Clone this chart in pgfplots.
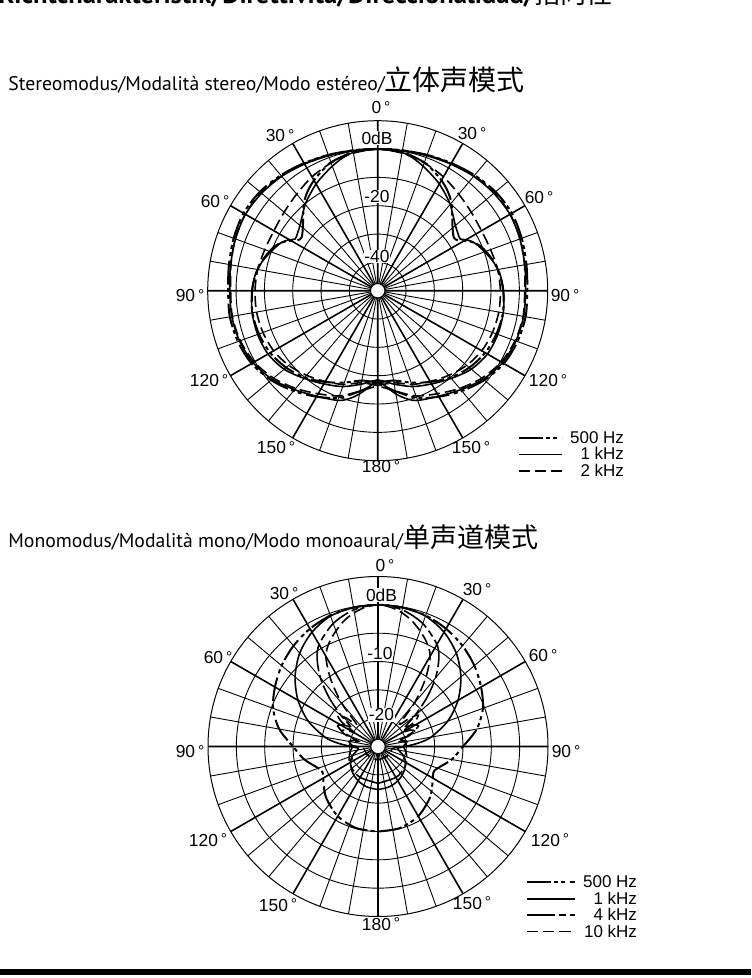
\documentclass[border=0pt]{standalone}
\usepackage{fontspec}
\setmainfont{Liberation Sans}
\newfontfamily\titlefont{PT Sans}
\newfontfamily\cjk{Noto Sans CJK SC}
\usepackage{pgfplots}
\usepackage{pgfplotstable}
\pgfplotsset{compat=1.18}
\usepgfplotslibrary{polar}

% ---- Stereo mode (angle from front, positive = facing side; level in dB)
\pgfplotstableread{
th   db
-180 -17.5
-170 -17.8
-160 -15.5
-150 -12.8
-140 -10.0
-130 -7.8
-120 -6.2
-110 -5.4
-100 -5.1
-90  -5.7
-82  -6.6
-75  -8.0
-67  -10.3
-62  -13.0
-58  -16.5
-55  -17.2
-50  -15.5
-45  -12.8
-40  -9.5
-35  -7.0
-30  -5.0
-25  -3.4
-20  -1.8
-10  -0.3
0    0
10   0.3
20   1.0
30   2.0
40   3.2
50   4.3
60   4.7
70   4.1
80   3.3
90   2.8
100  3.0
110  2.5
120  1.4
130  -0.9
140  -3.8
150  -6.8
160  -9.8
170  -14.0
180  -17.5
}\stA
\pgfplotstableread{
th   db
-180 -18.5
-175 -17.8
-170 -16.5
-160 -14.0
-150 -12.0
-140 -9.6
-130 -6.9
-120 -5.3
-110 -4.9
-100 -5.0
-90  -5.6
-82  -6.5
-75  -8.2
-67  -10.8
-63  -12.2
-60  -14.0
-58  -15.6
-55  -15.3
-50  -14.2
-45  -12.4
-40  -10.2
-35  -8.4
-30  -6.5
-25  -4.9
-20  -3.2
-15  -1.6
-10  -0.5
0    0
10   0.2
20   0.7
30   1.6
40   2.7
50   3.5
60   3.9
70   3.4
80   2.7
90   2.2
100  2.3
110  1.9
120  0.8
130  -1.4
140  -4.4
150  -7.0
160  -8.8
165  -10.5
170  -13.0
175  -16.0
180  -18.5
}\stB
\pgfplotstableread{
th   db
-180 -16.5
-170 -17.0
-160 -14.8
-150 -13.0
-140 -11.0
-130 -9.0
-120 -7.6
-110 -6.9
-100 -6.6
-90  -6.7
-80  -7.0
-70  -7.6
-60  -7.7
-50  -6.9
-40  -5.5
-30  -3.6
-20  -2.0
-10  -0.7
0    0
10   0.3
20   0.9
30   1.9
40   3.0
50   3.8
60   4.0
70   3.5
80   2.6
90   1.9
100  2.1
110  1.6
120  0.3
130  -2.0
140  -5.0
150  -8.0
160  -10.5
170  -14.0
180  -16.5
}\stC
% ---- Mono mode
\pgfplotstableread{
th   db
-180 -10.0
-165 -10.1
-150 -10.8
-135 -12.1
-125 -13.3
-115 -14.2
-110 -13.8
-100 -11.8
-90  -10.0
-80  -7.3
-70  -5.3
-60  -4.0
-50  -2.8
-40  -1.8
-30  -1.0
-20  -0.4
-10  -0.1
0    0
10   -0.1
20   -0.4
30   -1.0
40   -1.8
50   -2.8
60   -4.0
70   -5.3
80   -7.3
90   -10.0
100  -11.8
110  -13.8
115  -14.2
125  -13.3
135  -12.1
150  -10.8
165  -10.1
180  -10.0
}\moA
\pgfplotstableread{
th   db
-180 -17.4
-165 -17.6
-150 -18.0
-135 -18.6
-120 -19.4
-110 -20.2
-100 -21.3
-95  -21.5
-90  -20.2
-85  -17.8
-80  -15.5
-70  -11.9
-60  -8.7
-50  -5.9
-40  -3.5
-30  -1.7
-20  -0.5
-10  -0.1
0    0
10   -0.1
20   -0.5
30   -1.7
40   -3.5
50   -5.9
60   -8.7
70   -11.9
80   -15.5
85   -17.8
90   -20.2
95   -21.5
100  -21.3
110  -20.2
120  -19.4
135  -18.6
150  -18.0
165  -17.6
180  -17.4
}\moB
\pgfplotstableread{
th   db
-180 -18.5
-150 -18.7
-130 -19.0
-115 -19.4
-100 -20.0
-90  -20.5
-80  -19.8
-73  -20.8
-68  -18.5
-63  -17.0
-58  -17.8
-54  -19.0
-50  -16.5
-45  -12.8
-40  -9.2
-35  -6.3
-30  -4.2
-20  -1.9
-10  -0.5
0    0
10   -0.5
20   -1.9
30   -4.2
35   -6.3
40   -9.2
45   -12.8
50   -16.5
54   -19.0
58   -17.8
63   -17.0
68   -18.5
73   -20.8
80   -19.8
90   -20.5
100  -20.0
115  -19.4
130  -19.0
150  -18.7
180  -18.5
}\moC
\pgfplotstableread{
th   db
-180 -22.6
-130 -22.6
-100 -22.5
-92  -21.6
-86  -20.0
-80  -20.2
-75  -21.5
-71  -19.2
-67  -18.0
-63  -18.6
-59  -20.0
-56  -17.3
-52  -16.0
-48  -17.5
-44  -19.5
-40  -15.0
-35  -10.4
-30  -6.6
-25  -4.7
-20  -3.3
-15  -2.0
-10  -1.0
-5   -0.3
0    0
5    -0.3
10   -1.0
15   -2.0
20   -3.3
25   -4.7
30   -6.6
35   -10.4
40   -15.0
44   -19.5
48   -17.5
52   -16.0
56   -17.3
59   -20.0
63   -18.6
67   -18.0
71   -19.2
75   -21.5
80   -20.2
86   -20.0
92   -21.6
100  -22.5
130  -22.6
180  -22.6
}\moD

\pgfplotsset{
  dirgrid/.style={
    scale only axis, width=170pt, height=170pt,
    xmin=-90, xmax=270, ymin=0, ymax=6,
    xtick={-90,-60,...,240},
    minor xtick={-80,-70,-50,-40,-20,-10,10,20,40,50,70,80,100,110,130,140,160,170,190,200,220,230,250,260},
    ytick={1,2,3,4,5},
    xticklabels={}, yticklabels={},
    major tick length=0pt, minor tick length=0pt,
    xmajorgrids, xminorgrids, ymajorgrids,
    major x grid style={line width=0.8pt, black},
    minor x grid style={line width=0.45pt, black},
    major y grid style={line width=0.45pt, black},
    axis line style={line width=0.5pt, black},
    legend cell align=right,
    legend style={draw=none, fill=none, inner sep=0pt, outer sep=0pt,
      font=\fontsize{8.5}{9}\selectfont, column sep=3pt, row sep=0.6pt,
      nodes={inner sep=0.6pt, text height=5.9pt, text depth=0.5pt}},
  },
  p500/.style={black, line width=1pt, dash pattern=on 12pt off 1.6pt on 2pt off 1.6pt on 2pt off 2.3pt},
  p1k/.style={black, line width=0.8pt},
  p2k/.style={black, line width=0.8pt, dash pattern=on 5.6pt off 2.5pt},
  p4k/.style={black, line width=0.8pt, dash pattern=on 14pt off 2pt on 3.5pt off 2pt},
}

\newcommand\dg{\,\raisebox{0.6pt}{\fontsize{7.8}{8}\selectfont°}}

\begin{document}
\begin{tikzpicture}
\useasboundingbox (0,0) rectangle (375.5pt,-489pt);

% ================= Stereo =================
\begin{polaraxis}[dirgrid, name=top, at={(188.85pt,-145.35pt)}, anchor=center,
  y filter/.expression={(y+50)/10},
  legend image code/.code={\draw[#1] (0pt,0pt) -- (21.5pt,0pt);},
  legend style={at={(1.228,-0.0526)}, anchor=south east}]
\addplot[p500, smooth, x filter/.expression={90+x}] table[x=th,y=db] {\stA};
\addlegendentry{500 Hz}
\addplot[p1k, smooth, x filter/.expression={90+x}] table[x=th,y=db] {\stB};
\addlegendentry{1 kHz}
\addplot[p2k, smooth, x filter/.expression={90+x}] table[x=th,y=db] {\stC};
\addlegendentry{2 kHz}
\addplot[p500, smooth, x filter/.expression={90-x}, forget plot] table[x=th,y=db] {\stA};
\addplot[p1k, smooth, x filter/.expression={90-x}, forget plot] table[x=th,y=db] {\stB};
\addplot[p2k, smooth, x filter/.expression={90-x}, forget plot] table[x=th,y=db] {\stC};
\end{polaraxis}
\draw[line width=0.5pt, fill=white] (top.center) circle[radius=3.6pt];

% ================= Mono =================
\begin{polaraxis}[dirgrid, name=bot, at={(189pt,-373.25pt)}, anchor=center,
  y filter/.expression={(y+25)/5},
  legend image code/.code={\draw[#1] (0pt,0pt) -- (24pt,0pt);},
  legend style={at={(1.2653,-0.067)}, anchor=south east}]
\addplot[p500, smooth, x filter/.expression={90+x}] table[x=th,y=db] {\moA};
\addlegendentry{500 Hz}
\addplot[p1k, smooth, x filter/.expression={90+x}] table[x=th,y=db] {\moB};
\addlegendentry{1 kHz}
\addplot[p4k, smooth, x filter/.expression={90+x}] table[x=th,y=db] {\moC};
\addlegendentry{4 kHz}
\addplot[p2k, smooth, x filter/.expression={90+x}] table[x=th,y=db] {\moD};
\addlegendentry{10 kHz}
\end{polaraxis}
\draw[line width=0.5pt, fill=white] (bot.center) circle[radius=3.6pt];

% ================= Text =================
\begin{scope}[x=0.5pt, y=-0.5pt, lab/.style={font=\fontsize{8.7}{10}\selectfont, inner sep=0.4pt}]
% heading cut off at the top edge, as in the reference
\node[anchor=base west, inner sep=0pt] at (-2,3.5) {\titlefont\bfseries\fontsize{13.3}{15}\selectfont Richtcharakteristik/Direttività/Direccionalidad/{\cjk\mdseries\fontsize{13}{15}\selectfont 指向性}};
% titles
\node[anchor=base west, inner sep=0pt] at (8,91) {\titlefont\fontsize{9.85}{11}\selectfont Stereomodus/Modalità stereo/Modo estéreo/{\cjk\fontsize{14}{14}\selectfont 立体声模式}};
\node[anchor=base west, inner sep=0pt] at (8,547) {\titlefont\fontsize{9.85}{11}\selectfont Monomodus/Modalità mono/Modo monoaural/{\cjk\fontsize{13.5}{14}\selectfont 单声道模式}};
% top angle labels
\node[lab] at (381,108) {0\dg};
\node[lab] at (280,136) {30\dg};
\node[lab] at (472,134) {30\dg};
\node[lab] at (215,202) {60\dg};
\node[lab] at (539,198) {60\dg};
\node[lab] at (190,296) {90\dg};
\node[lab] at (565,296) {90\dg};
\node[lab] at (209,381) {120\dg};
\node[lab] at (548,381) {120\dg};
\node[lab] at (276,448) {150\dg};
\node[lab] at (471,448) {150\dg};
\node[lab] at (381,467) {180\dg};
\node[lab, fill=white] at (377,138) {0dB};
\node[lab, fill=white] at (377,196.5) {-20};
\node[lab, fill=white] at (377,256.5) {-40};
% bottom angle labels
\node[lab] at (385,566) {0\dg};
\node[lab] at (284,594) {30\dg};
\node[lab] at (477,590) {30\dg};
\node[lab] at (218,658) {60\dg};
\node[lab] at (543,656) {60\dg};
\node[lab] at (190,752) {90\dg};
\node[lab] at (566,752) {90\dg};
\node[lab] at (208,840) {120\dg};
\node[lab] at (550,840) {120\dg};
\node[lab] at (278,905) {150\dg};
\node[lab] at (472,903) {150\dg};
\node[lab] at (381,924) {180\dg};
\node[lab, fill=white] at (381.5,595) {0dB};
\node[lab, fill=white] at (380,654) {-10};
\node[lab, fill=white] at (381.5,715) {-20};
% bottom bar
\fill[black] (0,968.5) rectangle (751,974.5);
\end{scope}
\end{tikzpicture}
\end{document}
